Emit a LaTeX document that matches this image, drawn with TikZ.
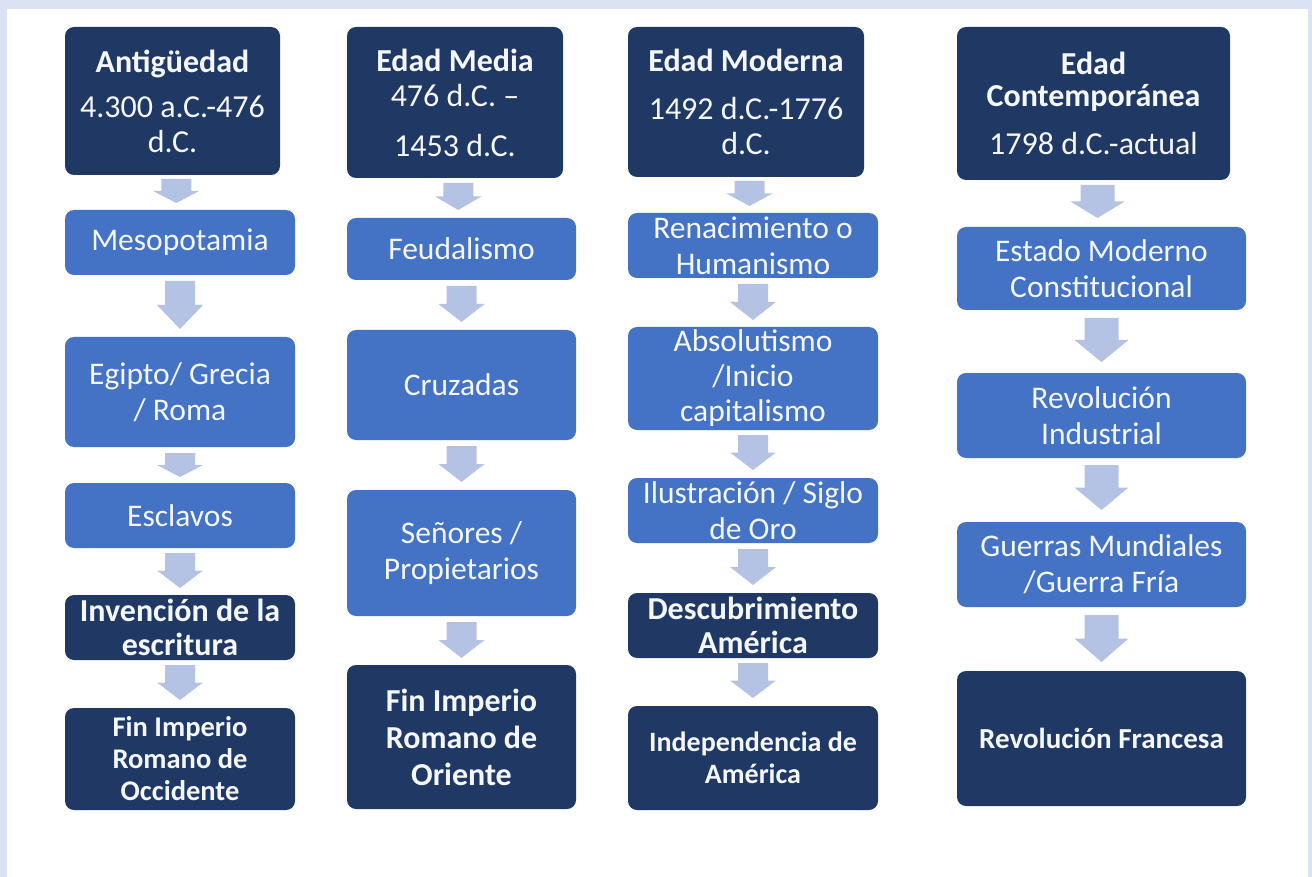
\documentclass[tikz,border=0pt]{standalone}
\usepackage{fontspec}
\setmainfont{Carlito}
\usetikzlibrary{calc}
\definecolor{navy}{HTML}{203864}
\definecolor{midblue}{HTML}{4472C4}
\definecolor{arrowc}{HTML}{B4C3E3}
\definecolor{framec}{HTML}{DAE3F3}
\definecolor{txt}{HTML}{F4F7FC}
\tikzset{
  box/.style={rounded corners=9pt, inner sep=1pt, outer sep=0pt, align=center, text=txt,
              font=\fontsize{31.5}{36}\selectfont},
  lbox/.style={box, fill=midblue},
  tbox/.style={box, fill=navy, font=\fontsize{32}{35}\selectfont},
  dbox/.style={box, fill=navy, font=\fontsize{32}{34}\selectfont\bfseries},
  blockarrow/.style={fill=arrowc},
}
% style, name, x1, x2, y1, y2, text
\newcommand\bx[7]{\node[#1, minimum width={#4-#3}, minimum height={#6-#5}] (#2) at ({(#3+#4)/2},{(#5+#6)/2}) {#7};}
% from, to, half shaft, half head, top gap, bottom gap
\newcommand\barrow[6]{%
  \fill[blockarrow] let \p1=(#1.south), \p2=(#2.north),
     \n1={(\x1+\x2)/2}, \n2={\y1-#5pt}, \n3={\y2+#6pt}, \n4={(\n2+\n3)/2} in
     ({\n1-#3pt},\n2) -- ({\n1+#3pt},\n2) -- ({\n1+#3pt},\n4) -- ({\n1+#4pt},\n4)
     -- (\n1,\n3) -- ({\n1-#4pt},\n4) -- ({\n1-#3pt},\n4) -- cycle;}
\begin{document}
\begin{tikzpicture}[x=1pt,y=-1pt]
\useasboundingbox (0,0) rectangle (1312,877);
\fill[framec] (0,0) rectangle (1312,877);
\fill[white] (7,9) rectangle (1308,877);

% column 1
\bx{tbox}{A0}{65}{280}{27}{175}{\textbf{Antigüedad}\\[10pt]4.300 a.C.-476\\d.C.}
\bx{lbox}{A1}{65}{295}{210}{275}{Mesopotamia}
\bx{lbox}{A2}{65}{295}{337}{447}{Egipto/ Grecia\\/ Roma}
\bx{lbox}{A3}{65}{295}{483}{548}{Esclavos}
\bx{dbox}{A4}{65}{295}{595}{660}{Invención de la\\escritura}
\bx{dbox, font=\fontsize{28.5}{32}\selectfont\bfseries}{A5}{65}{295}{708}{810}{Fin Imperio\\Romano de\\Occidente}

% column 2
\bx{tbox}{B0}{347}{563}{27}{178}{\textbf{Edad Media}\\476 d.C. –\\[15pt]1453 d.C.}
\bx{lbox}{B1}{347}{576}{218}{280}{Feudalismo}
\bx{lbox}{B2}{347}{576}{330}{440}{Cruzadas}
\bx{lbox}{B3}{347}{576}{490}{616}{Señores /\\Propietarios}
\bx{dbox, font=\fontsize{32}{37}\selectfont\bfseries}{B4}{347}{576}{665}{809}{Fin Imperio\\Romano de\\Oriente}

% column 3
\bx{tbox}{C0}{628}{864}{27}{177}{\textbf{Edad Moderna}\\[13pt]1492 d.C.-1776\\d.C.}
\bx{lbox}{C1}{628}{878}{213}{278}{Renacimiento o\\Humanismo}
\bx{lbox, font=\fontsize{31.5}{35}\selectfont}{C2}{628}{878}{327}{430}{Absolutismo\\/Inicio\\capitalismo}
\bx{lbox}{C3}{628}{878}{478}{543}{Ilustración / Siglo\\de Oro}
\bx{dbox}{C4}{628}{878}{593}{658}{Descubrimiento\\América}
\bx{dbox, font=\fontsize{28}{32}\selectfont\bfseries}{C5}{628}{878}{706}{810}{Independencia de\\América}

% column 4
\bx{tbox}{D0}{957}{1230}{27}{180}{\textbf{Edad}\\[-3pt]\textbf{Contemporánea}\\[13pt]1798 d.C.-actual}
\bx{lbox}{D1}{957}{1246}{227}{310}{Estado Moderno\\Constitucional}
\bx{lbox}{D2}{957}{1246}{373}{458}{Revolución\\Industrial}
\bx{lbox}{D3}{957}{1246}{522}{607}{Guerras Mundiales\\/Guerra Fría}
\bx{dbox, font=\fontsize{29}{33}\selectfont\bfseries}{D4}{957}{1246}{671}{806}{Revolución Francesa}

% arrows
\barrow{A0}{A1}{15}{23}{4}{7}
\barrow{A1}{A2}{15}{23}{6}{8}
\barrow{A2}{A3}{15}{23}{6}{6}
\barrow{A3}{A4}{15}{23}{5}{7}
\barrow{A4}{A5}{15}{23}{5}{8}

\barrow{B0}{B1}{15}{23}{5}{8}
\barrow{B1}{B2}{15}{23}{6}{8}
\barrow{B2}{B3}{15}{23}{6}{8}
\barrow{B3}{B4}{15}{23}{6}{7}

\barrow{C0}{C1}{15}{23}{4}{7}
\barrow{C1}{C2}{15}{23}{6}{7}
\barrow{C2}{C3}{15}{23}{5}{8}
\barrow{C3}{C4}{15}{23}{6}{8}
\barrow{C4}{C5}{15}{23}{5}{8}

\barrow{D0}{D1}{17}{27}{5}{9}
\barrow{D1}{D2}{17}{27}{8}{11}
\barrow{D2}{D3}{17}{27}{7}{12}
\barrow{D3}{D4}{17}{27}{8}{9}
\end{tikzpicture}
\end{document}
